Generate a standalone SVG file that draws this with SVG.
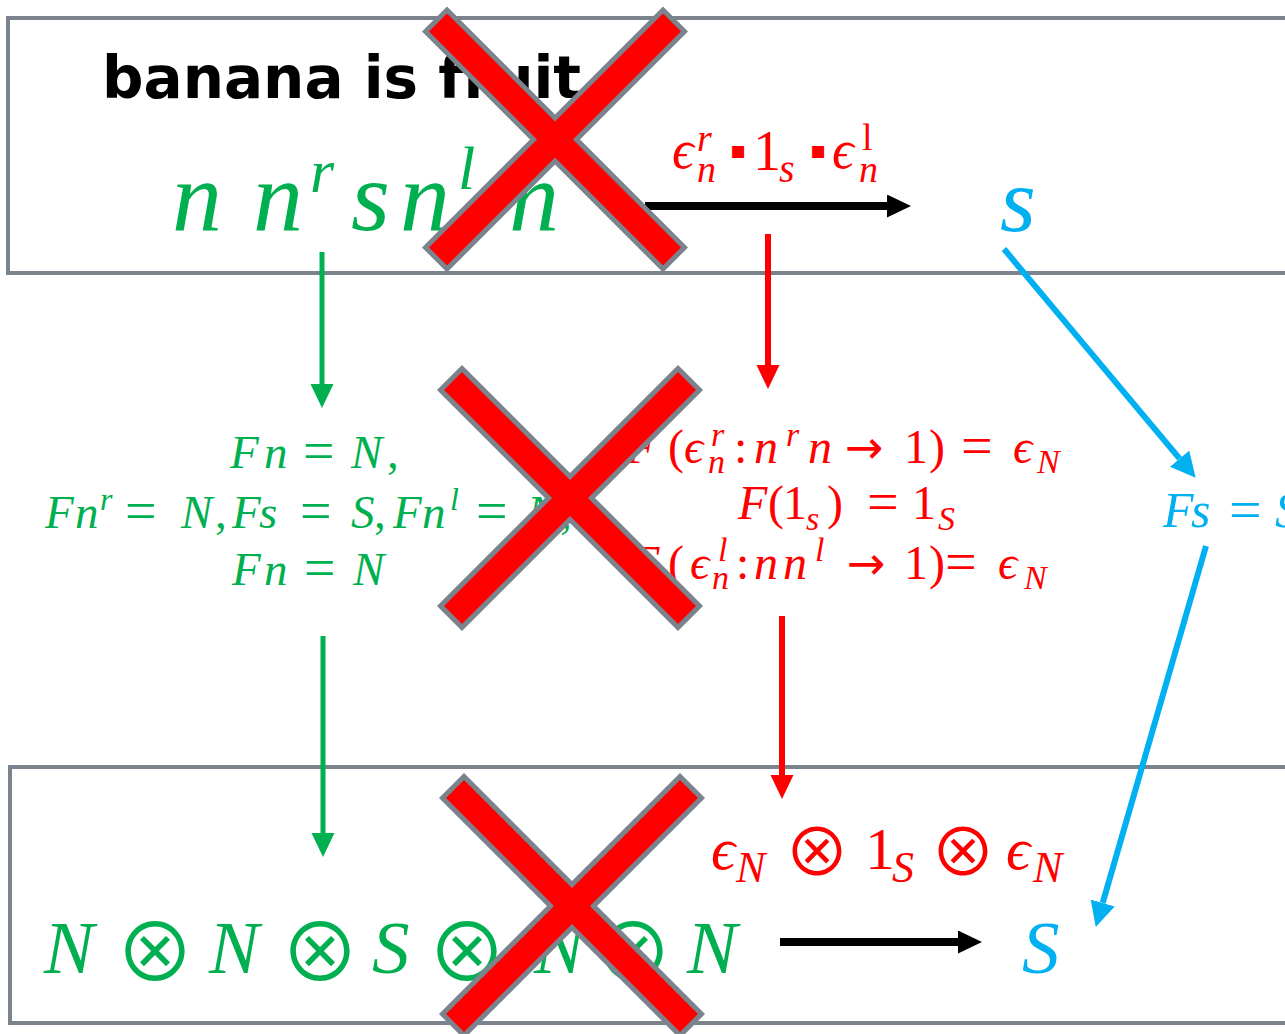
<svg xmlns="http://www.w3.org/2000/svg" xmlns:xlink="http://www.w3.org/1999/xlink" width="1285" height="1034" viewBox="0 0 1285 1034">
<style>
.box{fill:none;stroke:#7B848D;stroke-width:4}
.m{font-family:"Liberation Serif","DejaVu Serif",serif;font-style:italic}
.u{font-style:normal}
.ar{font-family:"DejaVu Sans",sans-serif;font-style:normal}
.op{font-family:"Noto Sans CJK JP","DejaVu Sans",sans-serif;font-style:normal;text-anchor:middle}
.g{fill:#00B050}.r{fill:#FF0000}.b{fill:#00B0F0}
.cross{fill:#FF0000;stroke:#7B848D;stroke-width:5}
.ln{fill:none}
</style>
<defs>
<marker id="hg" markerUnits="userSpaceOnUse" markerWidth="26" markerHeight="24" refX="0" refY="11.5" orient="auto"><path d="M0,0 L24,11.5 L0,23 z" fill="#00B050"/></marker>
<marker id="hr" markerUnits="userSpaceOnUse" markerWidth="26" markerHeight="24" refX="0" refY="11.5" orient="auto"><path d="M0,0 L24,11.5 L0,23 z" fill="#FF0000"/></marker>
<marker id="hk" markerUnits="userSpaceOnUse" markerWidth="26" markerHeight="24" refX="0" refY="11.5" orient="auto"><path d="M0,0 L24,11.5 L0,23 z" fill="#000000"/></marker>
<marker id="hb" markerUnits="userSpaceOnUse" markerWidth="26" markerHeight="26" refX="0" refY="12.5" orient="auto"><path d="M0,0 L25,12.5 L0,25 z" fill="#00B0F0"/></marker>
<polygon id="xshape" points="-108,-129.5 0,-21.5 108,-129.5 129.5,-108 21.5,0 129.5,108 108,129.5 0,21.5 -108,129.5 -129.5,108 -21.5,0 -129.5,-108"/>
</defs>

<g id="box-top"><rect class="box" x="8" y="18" width="1300" height="255"/></g>
<g id="box-bottom"><rect class="box" x="10" y="767" width="1300" height="256"/></g>

<g id="title"><text x="102" y="98" font-family="DejaVu Sans,Verdana,sans-serif" font-weight="bold" font-size="58" fill="#000">banana is fruit</text></g>

<g id="types-top" class="m g">
<text x="172" y="230" font-size="100">n</text>
<text x="253" y="230" font-size="100">n</text>
<text x="310" y="192" font-size="62">r</text>
<text x="351" y="230" font-size="100">s</text>
<text x="400" y="230" font-size="100">n</text>
<text x="458" y="189" font-size="62">l</text>
<text x="509" y="230" font-size="100">n</text>
</g>

<g id="label-top" class="m r">
<text x="672" y="168" font-size="54">ϵ</text>
<text x="697" y="151" font-size="38">r</text>
<text x="697" y="182" font-size="38">n</text>
<text x="730" y="158" font-size="24" class="u" font-family="DejaVu Sans,sans-serif">▪</text>
<text x="753" y="170" font-size="56" class="u">1</text>
<text x="779" y="182" font-size="40">s</text>
<text x="810" y="158" font-size="24" class="u" font-family="DejaVu Sans,sans-serif">▪</text>
<text x="832" y="168" font-size="54">ϵ</text>
<text x="862" y="150" font-size="38" class="u">l</text>
<text x="859" y="182" font-size="38">n</text>
</g>

<g id="s-top" class="m b"><text x="1000" y="231" font-size="92">s</text></g>

<g id="functor-green" class="m g" font-size="47">
<text x="230" y="468">F</text><text x="264" y="468">n</text><text x="303" y="470" class="u" font-size="56">=</text><text x="351" y="468">N</text><text x="387" y="468" class="u">,</text>
<text x="45" y="528">F</text><text x="75" y="528">n</text><text x="100" y="510" font-size="32">r</text><text x="125" y="530" class="u" font-size="56">=</text><text x="181" y="528">N</text><text x="215" y="528" class="u">,</text>
<text x="232" y="528">F</text><text x="259" y="528">s</text><text x="300" y="530" class="u" font-size="56">=</text><text x="351" y="528">S</text><text x="374" y="528" class="u">,</text>
<text x="393" y="528">F</text><text x="422" y="528">n</text><text x="450" y="510" font-size="32">l</text><text x="476" y="530" class="u" font-size="56">=</text><text x="527" y="528">N</text><text x="560" y="528" class="u">,</text>
<text x="232" y="585">F</text><text x="264" y="585">n</text><text x="304" y="587" class="u" font-size="56">=</text><text x="353" y="585">N</text>
</g>

<g id="functor-red" class="m r" font-size="48">
<text x="626" y="463">F</text><text x="668" y="463" class="u">(</text><text x="684" y="463">ϵ</text><text x="711" y="446" font-size="34">r</text><text x="708" y="473" font-size="34">n</text><text x="734" y="463" class="u">:</text><text x="754" y="463">n</text><text x="786" y="446" font-size="34">r</text><text x="808" y="463">n</text><text x="845" y="463" class="ar" font-size="46">→</text><text x="904" y="463" class="u">1</text><text x="929" y="463" class="u">)</text><text x="961" y="465" class="u" font-size="56">=</text><text x="1013" y="463">ϵ</text><text x="1037" y="473" font-size="34">N</text>
<text x="738" y="519">F</text><text x="768" y="519" class="u">(</text><text x="783" y="519" class="u">1</text><text x="806" y="530" font-size="34">s</text><text x="827" y="519" class="u">)</text><text x="867" y="521" class="u" font-size="56">=</text><text x="912" y="519" class="u">1</text><text x="938" y="530" font-size="34">S</text>
<text x="630" y="579">F</text><text x="668" y="579" class="u">(</text><text x="690" y="579">ϵ</text><text x="718" y="561" font-size="34">l</text><text x="712" y="589" font-size="34">n</text><text x="736" y="579" class="u">:</text><text x="754" y="579">n</text><text x="783" y="579">n</text><text x="815" y="561" font-size="34">l</text><text x="847" y="579" class="ar" font-size="46">→</text><text x="904" y="579" class="u">1</text><text x="929" y="579" class="u">)</text><text x="945" y="581" class="u" font-size="56">=</text><text x="998" y="579">ϵ</text><text x="1024" y="589" font-size="34">N</text>
</g>

<g id="functor-blue" class="m b" font-size="50">
<text x="1163" y="527">F</text><text x="1191" y="527">s</text><text x="1229" y="529" class="u" font-size="58">=</text><text x="1275" y="527">S</text>
</g>

<g id="types-bottom" class="m g" font-size="75">
<text x="44" y="973">N</text>
<text x="155" y="981" class="op" font-size="80">⊗</text>
<text x="209" y="973">N</text>
<text x="320" y="981" class="op" font-size="80">⊗</text>
<text x="372" y="973">S</text>
<text x="467" y="981" class="op" font-size="80">⊗</text>
<text x="534" y="973">N</text>
<text x="633" y="981" class="op" font-size="80">⊗</text>
<text x="687" y="973">N</text>
</g>

<g id="label-bottom" class="m r">
<text x="711" y="869" font-size="60">ϵ</text>
<text x="736" y="882" font-size="44">N</text>
<text x="817" y="876" class="op" font-size="66">⊗</text>
<text x="865" y="869" font-size="60" class="u">1</text>
<text x="892" y="882" font-size="44">S</text>
<text x="963" y="876" class="op" font-size="66">⊗</text>
<text x="1006" y="869" font-size="60">ϵ</text>
<text x="1033" y="882" font-size="44">N</text>
</g>

<g id="S-bottom" class="m b"><text x="1022" y="973" font-size="75">S</text></g>

<g id="connectors" class="ln">
<line x1="322" y1="252" x2="322" y2="384" stroke="#00B050" stroke-width="5" marker-end="url(#hg)"/>
<line x1="323" y1="636" x2="323" y2="833" stroke="#00B050" stroke-width="5" marker-end="url(#hg)"/>
<line x1="768" y1="234" x2="768" y2="365" stroke="#FF0000" stroke-width="6" marker-end="url(#hr)"/>
<line x1="782" y1="616" x2="782" y2="775" stroke="#FF0000" stroke-width="6" marker-end="url(#hr)"/>
<line x1="645" y1="206" x2="887" y2="206" stroke="#000" stroke-width="8" marker-end="url(#hk)"/>
<line x1="780" y1="942" x2="958" y2="942" stroke="#000" stroke-width="8" marker-end="url(#hk)"/>
<line x1="1004" y1="249" x2="1179.6" y2="458.6" stroke="#00B0F0" stroke-width="6" marker-end="url(#hb)"/>
<line x1="1206" y1="546" x2="1102.7" y2="902.9" stroke="#00B0F0" stroke-width="6" marker-end="url(#hb)"/>
</g>

<g id="cross-1"><use xlink:href="#xshape" href="#xshape" class="cross" x="555" y="139.5"/></g>
<g id="cross-2"><use xlink:href="#xshape" href="#xshape" class="cross" x="570" y="498"/></g>
<g id="cross-3"><use xlink:href="#xshape" href="#xshape" class="cross" x="572" y="906"/></g>
</svg>
